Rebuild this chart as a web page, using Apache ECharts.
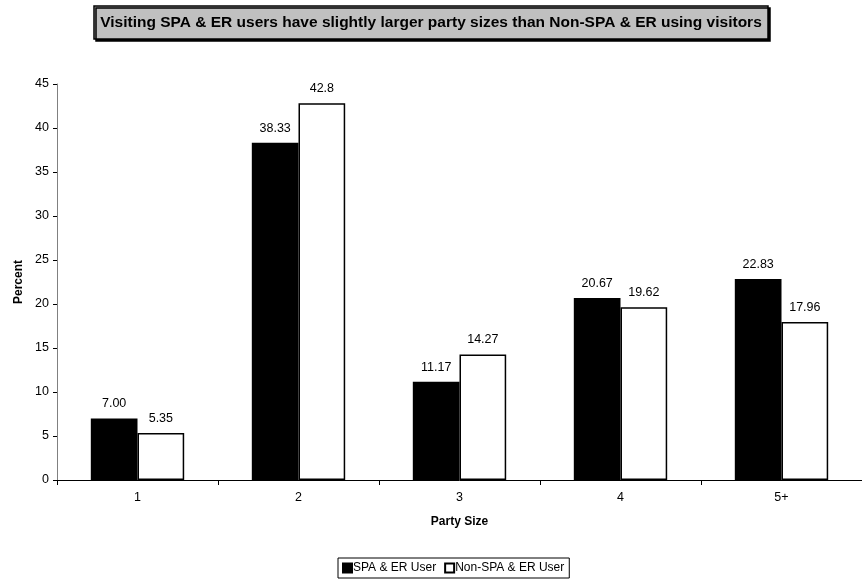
<!DOCTYPE html>
<html><head><meta charset="utf-8">
<script src="https://cdn.jsdelivr.net/npm/echarts@6/dist/echarts.min.js"></script>
<style>html,body{margin:0;padding:0;background:#fff}#c{width:862px;height:584px}</style>
</head><body><div id="c"></div>
<script>
const categories = ['1', '2', '3', '4', '5+'];
const spaUsers = [7.00, 38.33, 11.17, 20.67, 22.83];
const spaLabels = ['7.00', '38.33', '11.17', '20.67', '22.83'];
const nonSpaUsers = [5.35, 42.8, 14.27, 19.62, 17.96];
const nonSpaLabels = ['5.35', '42.8', '14.27', '19.62', '17.96'];
const seriesNames = ['SPA & ER User', 'Non-SPA & ER User'];

const font = 'Arial, "Liberation Sans", sans-serif';
const chart = echarts.init(document.getElementById('c'), null, {renderer: 'canvas'});
chart.setOption({
  animation: false,
  backgroundColor: '#fff',
  title: {
    text: 'Visiting SPA & ER users have slightly larger party sizes than Non-SPA & ER using visitors',
    left: 'center', top: 6,
    backgroundColor: '#c0c0c0', borderColor: '#000', borderWidth: 1.5,
    padding: [9, 6, 8, 6],
    shadowColor: '#000', shadowOffsetX: 2, shadowOffsetY: 2, shadowBlur: 0,
    textStyle: {fontFamily: font, fontSize: 15.5, fontWeight: 'bold', color: '#000'}
  },
  legend: {
    data: seriesNames, bottom: 6, left: 338,
    icon: 'rect', itemWidth: 9, itemHeight: 9, itemGap: 8,
    borderColor: '#000', borderWidth: 1, padding: [4, 5, 4, 4],
    textStyle: {fontFamily: font, fontSize: 12, color: '#000', padding: [0, 0, 0, -4]}
  },
  grid: {left: 57, top: 84, width: 810, bottom: 104, containLabel: false},
  xAxis: {
    type: 'category', data: categories,
    name: 'Party Size', nameLocation: 'middle', nameGap: 36,
    nameTextStyle: {fontFamily: font, fontSize: 12, fontWeight: 'bold', color: '#000'},
    axisLine: {lineStyle: {color: '#000', width: 1}},
    axisTick: {show: true, length: 5, lineStyle: {color: '#000'}},
    axisLabel: {fontFamily: font, fontSize: 12.5, color: '#000', margin: 11}
  },
  yAxis: {
    type: 'value', min: 0, max: 45, interval: 5,
    name: 'Percent', nameLocation: 'middle', nameGap: 30, nameRotate: 90,
    nameTextStyle: {fontFamily: font, fontSize: 12, fontWeight: 'bold', color: '#000'},
    axisLine: {show: true, lineStyle: {color: '#808080', width: 1}},
    axisTick: {show: true, length: 4, lineStyle: {color: '#000'}},
    splitLine: {show: false},
    axisLabel: {fontFamily: font, fontSize: 12.5, color: '#000', margin: 8}
  },
  series: [
    {
      name: seriesNames[0], type: 'bar', data: spaUsers,
      barGap: '0%', barCategoryGap: '42%',
      itemStyle: {color: '#000', borderColor: '#000', borderWidth: 1.5},
      label: {show: true, position: 'top', distance: 8, fontFamily: font, fontSize: 12.5, color: '#000',
        formatter: p => spaLabels[p.dataIndex]}
    },
    {
      name: seriesNames[1], type: 'bar', data: nonSpaUsers,
      itemStyle: {color: '#fff', borderColor: '#000', borderWidth: 1.5},
      label: {show: true, position: 'top', distance: 8, fontFamily: font, fontSize: 12.5, color: '#000',
        formatter: p => nonSpaLabels[p.dataIndex]}
    }
  ]
});
</script></body></html>
